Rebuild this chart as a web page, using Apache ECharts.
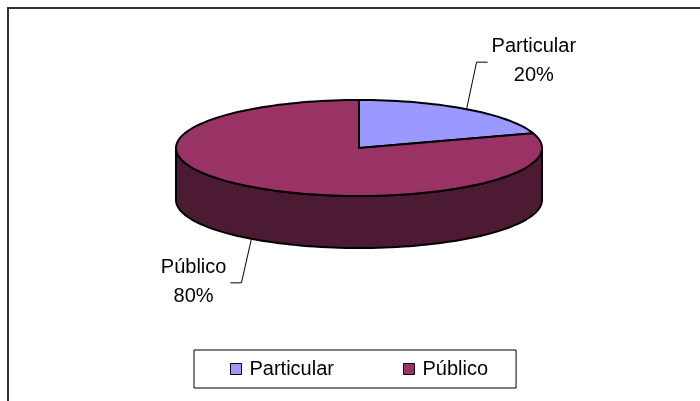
<!DOCTYPE html>
<html>
<head>
<meta charset="utf-8">
<script src="https://cdn.jsdelivr.net/npm/echarts@6/dist/echarts.min.js"></script>
<style>
  html, body { margin: 0; padding: 0; background: #fff; }
  #chart { width: 700px; height: 401px; }
</style>
</head>
<body>
<div id="chart"></div>
<script>
// dados do gráfico
const categories = ['Particular', 'Público'];
const values = [20, 80];
const colors = ['#9999ff', '#993366'];
const sideColors = ['#4d4d80', '#4c1a33'];

const total = values.reduce((a, b) => a + b, 0);

// geometria da pizza 3D
const cx = 359, cy = 148, rx = 183, ry = 48, depth = 52;
const FONT = '"Liberation Sans", Arial, sans-serif';

const measureCtx = document.createElement('canvas').getContext('2d');
measureCtx.font = '20px ' + FONT;

function pt(a, dy) {
    return [cx + rx * Math.cos(a), cy - ry * Math.sin(a) + (dy || 0)];
}
function arc(a0, a1, dy) {
    const n = Math.max(2, Math.ceil(Math.abs(a1 - a0) / (Math.PI / 90)));
    const out = [];
    for (let k = 0; k <= n; k++) out.push(pt(a0 + (a1 - a0) * k / n, dy));
    return out;
}

function renderSlice(i) {
    return function (params, api) {
        const v = api.value(0);
        let before = 0;
        for (let j = 0; j < i; j++) before += values[j];
        const start = Math.PI / 2 - 2 * Math.PI * before / total;
        const end = start - 2 * Math.PI * v / total;
        const children = [];

        // parede lateral (somente a parte da frente)
        [[-3 * Math.PI, -2 * Math.PI], [-Math.PI, 0], [Math.PI, 2 * Math.PI]].forEach(function (r) {
            const a = Math.min(start, r[1]);
            const b = Math.max(end, r[0]);
            if (a > b) {
                const pts = arc(a, b, 0).concat(arc(b, a, depth));
                children.push({
                    type: 'polygon', z2: 1,
                    shape: { points: pts },
                    style: { fill: sideColors[i], stroke: '#000', lineWidth: 2, lineJoin: 'round' }
                });
            }
        });

        // face superior
        children.push({
            type: 'polygon', z2: 2,
            shape: { points: [[cx, cy]].concat(arc(start, end, 0)) },
            style: { fill: colors[i], stroke: '#000', lineWidth: 2, lineJoin: 'round' }
        });

        // rótulo com linha de chamada
        const mid = (start + end) / 2;
        const front = Math.sin(mid) < 0;
        const side = Math.cos(mid) >= 0 ? 1 : -1;
        const anchor = pt(mid, front ? depth : 0);
        const elbow = [anchor[0] + side * 10, anchor[1] + (front ? 44 : -47)];
        const tip = [elbow[0] + side * 11, elbow[1]];
        children.push({
            type: 'polyline', z2: 3,
            shape: { points: [anchor, elbow, tip] },
            style: { stroke: '#000', lineWidth: 1, fill: null }
        });
        const name = categories[i];
        const pct = Math.round(v / total * 100) + '%';
        const w = Math.max(measureCtx.measureText(name).width, measureCtx.measureText(pct).width);
        children.push({
            type: 'text', z2: 3,
            x: tip[0] + side * (4 + w / 2), y: tip[1] - 1,
            style: {
                text: name + '\n' + pct,
                fill: '#000', font: '20px ' + FONT,
                align: 'center', verticalAlign: 'middle', lineHeight: 29
            }
        });

        return { type: 'group', children: children };
    };
}

const myChart = echarts.init(document.getElementById('chart'));
const option = {
    backgroundColor: '#fff',
    animation: false,
    graphic: [{
        type: 'rect',
        shape: { x: 8, y: 8, width: 720, height: 420 },
        style: { fill: null, stroke: '#333', lineWidth: 2 }
    }],
    legend: {
        left: 194,
        top: 350,
        orient: 'horizontal',
        data: categories,
        icon: 'rect',
        itemWidth: 11,
        itemHeight: 11,
        itemGap: 69,
        padding: [9, 28, 9, 36],
        borderColor: '#000',
        borderWidth: 1,
        backgroundColor: '#fff',
        itemStyle: { borderColor: '#000', borderWidth: 1 },
        textStyle: { color: '#000', fontSize: 20, fontFamily: FONT, padding: [0, 0, 0, 3] }
    },
    series: categories.map(function (c, i) {
        return {
            name: c,
            type: 'custom',
            coordinateSystem: 'none',
            itemStyle: { color: colors[i], borderColor: '#000', borderWidth: 1 },
            renderItem: renderSlice(i),
            data: [values[i]]
        };
    })
};
option && myChart.setOption(option);
</script>
</body>
</html>
